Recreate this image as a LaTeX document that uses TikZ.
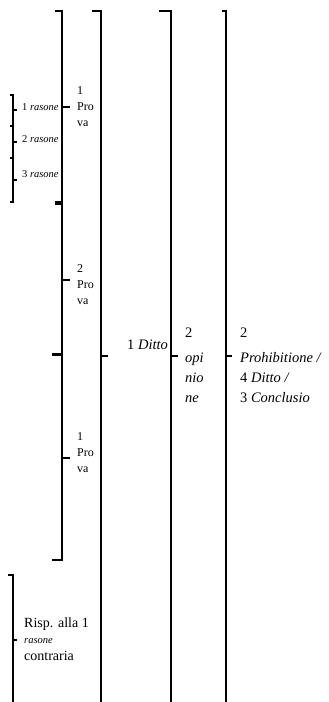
\documentclass[tikz,border=0pt]{standalone}
\usepackage{fontspec}
\setmainfont{Liberation Serif}
\begin{document}
\begin{tikzpicture}[x=1pt,y=-1pt,
  brk/.style={line width=1.4pt, line join=miter, line cap=butt},
  lbl/.style={anchor=base west, inner sep=0pt, align=left},
  bigtxt/.style={font=\fontsize{14.5}{20}\selectfont},
  midtxt/.style={font=\fontsize{12}{16}\selectfont},
  smltxt/.style={font=\fontsize{10.5}{12}\selectfont},
  rsptxt/.style={font=\fontsize{14}{16.5}\selectfont},
]
\useasboundingbox (0,0) rectangle (329,702);

% ---------- labels (anchor = baseline of last line) ----------
\node[lbl,smltxt] (r1) at (22,110) {1 \textit{rasone}};
\node[lbl,smltxt] (r2) at (22,142) {2 \textit{rasone}};
\node[lbl,smltxt] (r3) at (22,177) {3 \textit{rasone}};
\node[lbl,midtxt] (pa) at (77,126) {1\\Pro\\va};
\node[lbl,midtxt] (pb) at (77,304) {2\\Pro\\va};
\node[lbl,midtxt] (pc) at (77,472) {1\\Pro\\va};
\node[lbl,bigtxt] (dit) at (127,349) {1 \textit{Ditto}};
\node[lbl,bigtxt] (opi) at (185,402) {2\\[5pt]\textit{opi}\\\textit{nio}\\\textit{ne}};
\node[lbl,bigtxt] (pro) at (240,402) {2\\[5pt]\textit{Prohibitione /}\\4 \textit{Ditto /}\\3 \textit{Conclusio}};
\node[lbl,rsptxt] (rsp) at (24,660) {Risp. alla 1\\{\fontsize{10.5}{12}\selectfont\textit{rasone}}\\contraria};

% ---------- tick coordinates ----------
\coordinate (t1a) at (13,110); \coordinate (t1b) at (17,110);
\coordinate (t2a) at (13,142); \coordinate (t2b) at (17,142);
\coordinate (t3a) at (13,180); \coordinate (t3b) at (17,180);
\coordinate (tra) at (13,640); \coordinate (trb) at (17,640);
\coordinate (tAa) at (62,107); \coordinate (tAb) at (70,107);
\coordinate (tBa) at (62,280); \coordinate (tBb) at (70,280);
\coordinate (tCa) at (62,458); \coordinate (tCb) at (70,458);
\coordinate (k1a) at (101,356); \coordinate (k1b) at (108,356);
\coordinate (k2a) at (171,356); \coordinate (k2b) at (178,356);
\coordinate (k3a) at (226,356); \coordinate (k3b) at (232,356);

% ---------- small braces (rasone) ----------
\draw[brk] (9.5,95) -- (13,95) -- (13,126) -- (9.5,126);
\draw[brk] (t1a) -- (t1b);
\draw[brk] (9.5,126) -- (13,126) -- (13,158) -- (9.5,158);
\draw[brk] (t2a) -- (t2b);
\draw[brk] (9.5,158) -- (13,158) -- (13,202) -- (9.5,202);
\draw[brk] (t3a) -- (t3b);

% ---------- risposta brace ----------
\draw[brk] (8,575) -- (13,575) -- (13,702);
\draw[brk] (tra) -- (trb);

% ---------- Prova braces ----------
\draw[brk] (55,11) -- (62,11) -- (62,202) -- (55,202);
\draw[brk] (tAa) -- (tAb);
\draw[brk] (55,204) -- (62,204) -- (62,354) -- (52,354);
\draw[brk] (tBa) -- (tBb);
\draw[brk] (52,355) -- (62,355) -- (62,560) -- (52,560);
\draw[brk] (tCa) -- (tCb);

% ---------- long columns ----------
\draw[brk] (92,11) -- (101,11) -- (101,702);
\draw[brk] (k1a) -- (k1b);
\draw[brk] (159,11) -- (171,11) -- (171,702);
\draw[brk] (k2a) -- (k2b);
\draw[brk] (222,11) -- (226,11) -- (226,702);
\draw[brk] (k3a) -- (k3b);
\end{tikzpicture}
\end{document}
